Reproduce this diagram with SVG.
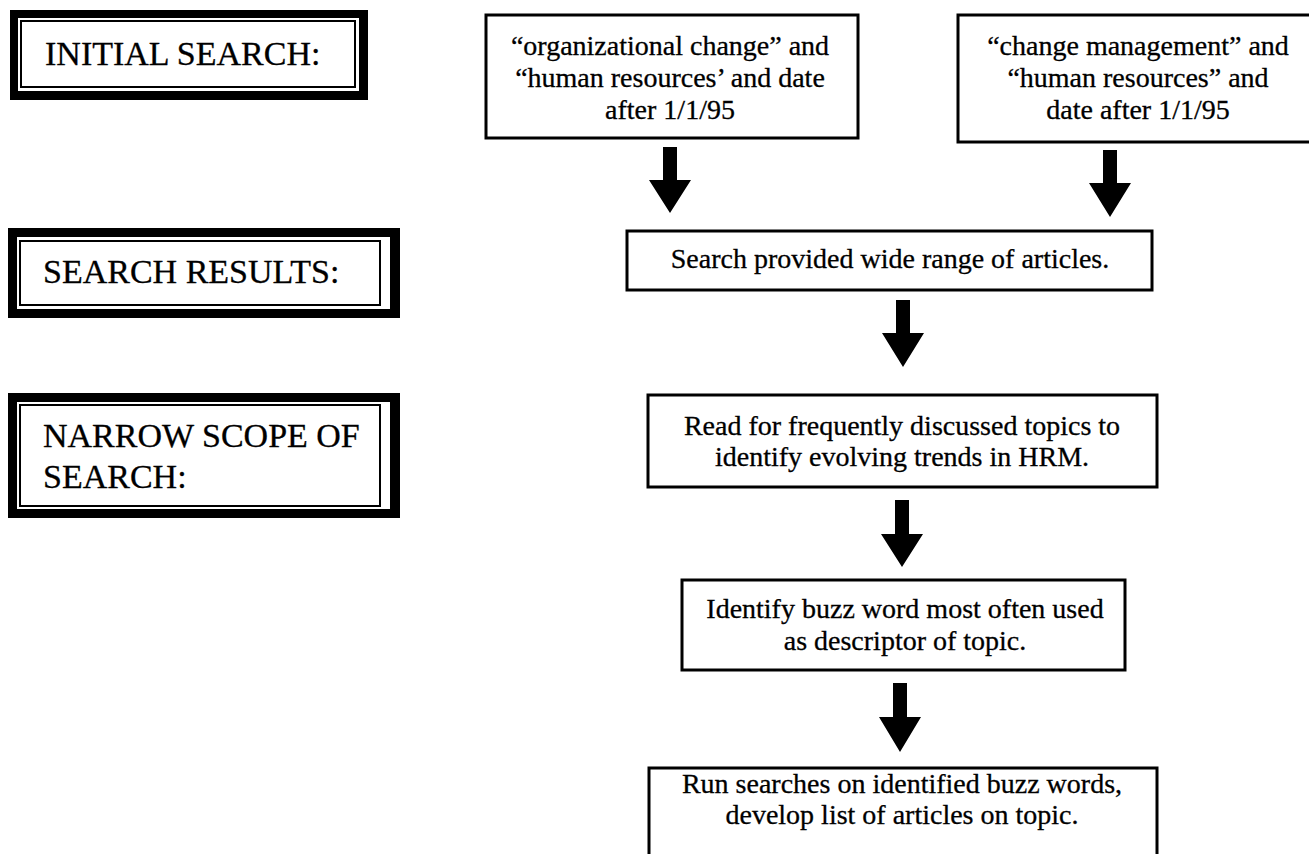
<svg xmlns="http://www.w3.org/2000/svg" width="1309" height="854" viewBox="0 0 1309 854">
<style>
.lbl{font-family:"Liberation Serif","Times New Roman",serif;font-size:34px;fill:#000;stroke:#000;stroke-width:0.3}
.txt{font-family:"Liberation Serif","Times New Roman",serif;font-size:28px;fill:#000;stroke:#000;stroke-width:0.3;text-anchor:middle}
.box{fill:#fff;stroke:#000;stroke-width:3}
.band{fill:#000}
.inner{fill:#fff}
.thin{fill:none;stroke:#000;stroke-width:2}
.arrow{fill:#000}
</style>
<rect width="1309" height="854" fill="#fff"/>
<g id="label-initial">
<rect class="band" x="10" y="10" width="358" height="90"/>
<rect class="inner" x="18" y="18" width="341" height="73"/>
<rect class="thin" x="21" y="21" width="334" height="66"/>
<text class="lbl" x="45" y="65">INITIAL SEARCH:</text>
</g>
<g id="label-results">
<rect class="band" x="8" y="228" width="392" height="90"/>
<rect class="inner" x="17" y="237" width="373" height="72"/>
<rect class="thin" x="20" y="241" width="360" height="64"/>
<text class="lbl" x="43" y="283">SEARCH RESULTS:</text>
</g>
<g id="label-narrow">
<rect class="band" x="8" y="393" width="392" height="125"/>
<rect class="inner" x="17" y="402" width="373" height="107"/>
<rect class="thin" x="20" y="405" width="360" height="101"/>
<text class="lbl" x="43" y="447">NARROW SCOPE OF</text>
<text class="lbl" x="43" y="488">SEARCH:</text>
</g>
<g id="node-org">
<rect class="box" x="486" y="15" width="372" height="123"/>
<text class="txt" x="670" y="55">“organizational change” and</text>
<text class="txt" x="670" y="87">“human resources’ and date</text>
<text class="txt" x="670" y="119">after 1/1/95</text>
</g>
<g id="node-cm">
<rect class="box" x="958" y="15" width="360" height="127"/>
<text class="txt" x="1138" y="55">“change management” and</text>
<text class="txt" x="1138" y="87">“human resources” and</text>
<text class="txt" x="1138" y="119">date after 1/1/95</text>
</g>
<g id="node-results">
<rect class="box" x="627" y="231" width="525" height="59"/>
<text class="txt" x="890" y="268">Search provided wide range of articles.</text>
</g>
<g id="node-read">
<rect class="box" x="648" y="395" width="509" height="92"/>
<text class="txt" x="902" y="435">Read for frequently discussed topics to</text>
<text class="txt" x="902" y="466">identify evolving trends in HRM.</text>
</g>
<g id="node-buzz">
<rect class="box" x="682" y="580" width="443" height="90"/>
<text class="txt" x="905" y="618">Identify buzz word most often used</text>
<text class="txt" x="905" y="650">as descriptor of topic.</text>
</g>
<g id="node-run">
<rect class="box" x="649" y="768" width="508" height="100"/>
<text class="txt" x="902" y="793">Run searches on identified buzz words,</text>
<text class="txt" x="902" y="824">develop list of articles on topic.</text>
</g>
<g id="connectors">
<polygon class="arrow" points="663,147 677,147 677,180 691,180 670,213 649,180 663,180"/>
<polygon class="arrow" points="1103,150 1117,150 1117,183 1131,183 1110,217 1089,183 1103,183"/>
<polygon class="arrow" points="896,300 910,300 910,333 924,333 903,367 882,333 896,333"/>
<polygon class="arrow" points="895,500 909,500 909,534 923,534 902,567 881,534 895,534"/>
<polygon class="arrow" points="893,683 907,683 907,717 921,717 900,752 879,717 893,717"/>
</g>
</svg>
